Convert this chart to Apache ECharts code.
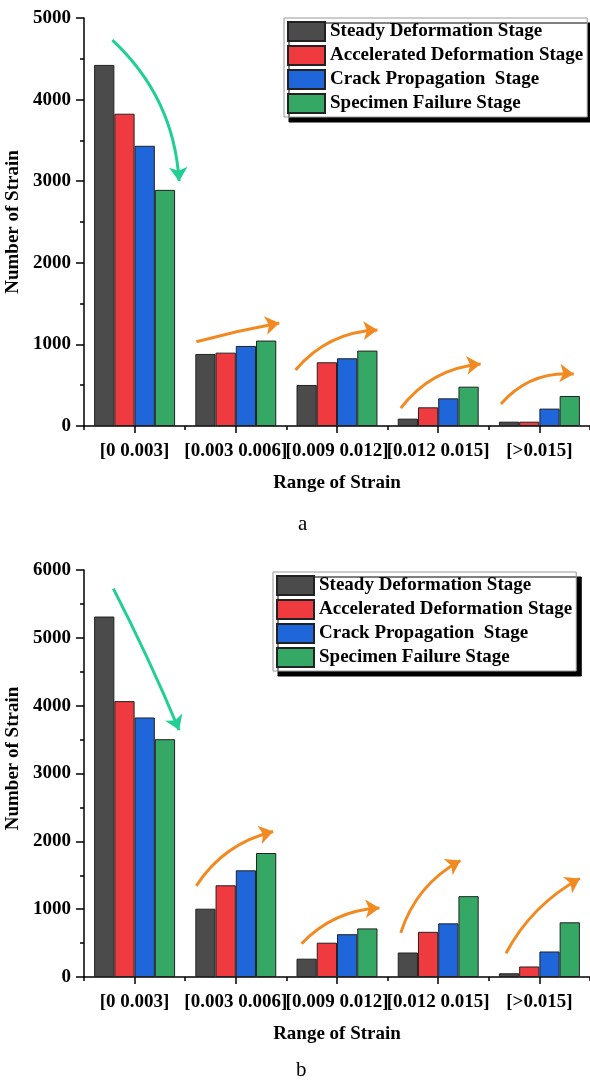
<!DOCTYPE html>
<html>
<head>
<meta charset="utf-8">
<script src="https://cdn.jsdelivr.net/npm/echarts@6/dist/echarts.min.js"></script>
<style>
html,body{margin:0;padding:0;background:#fff;}
#chart{width:590px;height:1084px;}
</style>
</head>
<body>
<div id="chart"></div>
<script>
const categories = ['[0 0.003]', '[0.003 0.006]', '[0.009 0.012]', '[0.012 0.015]', '[>0.015]'];
const stageNames = ['Steady Deformation Stage', 'Accelerated Deformation Stage', 'Crack Propagation  Stage', 'Specimen Failure Stage'];
const stageColors = ['#4b4b4b', '#ef3b40', '#1e66d9', '#35a866'];

const aSteady  = [4425, 883, 503, 90, 53];
const aAccel   = [3827, 899, 781, 229, 53];
const aCrack   = [3434, 981, 830, 339, 213];
const aFailure = [2894, 1047, 924, 482, 368];

const bSteady  = [5314, 1007, 270, 361, 55];
const bAccel   = [4067, 1352, 506, 666, 155];
const bCrack   = [3826, 1573, 631, 791, 376];
const bFailure = [3506, 1828, 716, 1192, 806];

const yTicksA = [0, 1000, 2000, 3000, 4000, 5000];
const yTicksB = [0, 1000, 2000, 3000, 4000, 5000, 6000];

// annotation arrows (data space: x in category index units, y in counts)
const trendA = [
  {from: [-0.22, 4730], to: [0.44, 3000], color: '#22cf92', curv: 0.2},
  {from: [0.61, 1033], to: [1.43, 1262], color: '#f28a22', curv: 0.02},
  {from: [1.59, 686], to: [2.40, 1176], color: '#f28a22', curv: 0.22},
  {from: [2.63, 218], to: [3.42, 760], color: '#f28a22', curv: 0.22},
  {from: [3.62, 270], to: [4.34, 637], color: '#f28a22', curv: 0.25}
];
const trendB = [
  {from: [-0.21, 5725], to: [0.44, 3640], color: '#22cf92', curv: 0.02},
  {from: [0.61, 1343], to: [1.37, 2144], color: '#f28a22', curv: 0.2},
  {from: [1.65, 491], to: [2.42, 1017], color: '#f28a22', curv: 0.2},
  {from: [2.63, 651], to: [3.22, 1718], color: '#f28a22', curv: 0.2},
  {from: [3.67, 350], to: [4.40, 1452], color: '#f28a22', curv: 0.15}
];

const FONT = 'Liberation Serif, Times New Roman, serif';
const chart = echarts.init(document.getElementById('chart'), null, {renderer: 'canvas'});

function catAxis(grid) {
  return {
    type: 'category', gridIndex: grid, data: categories, position: 'bottom',
    axisLine: {onZero: false, lineStyle: {color: '#000', width: 1.5}},
    axisTick: {show: true, alignWithLabel: true, length: 7, lineStyle: {color: '#000', width: 1.5}},
    axisLabel: {interval: 0, color: '#000', fontFamily: FONT, fontWeight: 'bold', fontSize: 19, margin: 16},
    name: 'Range of Strain', nameLocation: 'middle', nameGap: 48,
    nameTextStyle: {color: '#000', fontFamily: FONT, fontWeight: 'bold', fontSize: 19}
  };
}
function boundAxis(grid) {
  return {
    type: 'category', gridIndex: grid, data: categories, position: 'bottom',
    axisLine: {show: false, onZero: false},
    axisTick: {show: true, alignWithLabel: false, interval: 0, length: 4, lineStyle: {color: '#000', width: 1.5}},
    axisLabel: {show: false}
  };
}
function annoAxis(grid) {
  return {type: 'value', gridIndex: grid, min: -0.5, max: 4.5, show: false, position: 'bottom', axisLine: {onZero: false}};
}
function valAxis(grid, ticks, padLeft) {
  return {
    type: 'value', gridIndex: grid, min: ticks[0], max: ticks[ticks.length - 1], interval: 1000,
    axisLine: {show: true, onZero: false, lineStyle: {color: '#000', width: 1.5}},
    axisTick: {show: true, length: 8, lineStyle: {color: '#000', width: 1.5}},
    minorTick: {show: true, splitNumber: 2, length: 4, lineStyle: {color: '#000', width: 1.5}},
    splitLine: {show: false},
    axisLabel: {color: '#000', fontFamily: FONT, fontWeight: 'bold', fontSize: 19, margin: 13,
      formatter: function (v) { return String(v); }},
    name: 'Number of Strain', nameLocation: 'middle', nameGap: 52,
    nameTextStyle: {color: '#000', fontFamily: FONT, fontWeight: 'bold', fontSize: 19, padding: [0, 0, 0, padLeft]}
  };
}
function barSeries(name, color, data, xi, yi) {
  return {
    type: 'bar', name: name, data: data, xAxisIndex: xi, yAxisIndex: yi,
    barGap: '0%', barCategoryGap: '20%',
    itemStyle: {color: color, borderColor: '#222', borderWidth: 1},
    emphasis: {disabled: true}
  };
}
function arrowSeries(list, xi, yi) {
  return list.map(function (a) {
    return {
      type: 'lines', coordinateSystem: 'cartesian2d', xAxisIndex: xi, yAxisIndex: yi,
      symbol: ['none', 'arrow'], symbolSize: 14, silent: true, z: 5,
      lineStyle: {color: a.color, width: 3, opacity: 1, curveness: a.curv},
      data: [{coords: [a.from, a.to]}]
    };
  });
}
function legendAt(left, top) {
  return {
    data: stageNames, orient: 'vertical', left: left, top: top,
    itemWidth: 37, itemHeight: 19, itemGap: 3, padding: [3, 4, 3, 3],
    icon: 'rect', selectedMode: false,
    backgroundColor: '#fff', borderColor: '#999', borderWidth: 1,
    shadowColor: '#000', shadowOffsetX: 5, shadowOffsetY: 5, shadowBlur: 0,
    textStyle: {color: '#000', fontFamily: FONT, fontWeight: 'bold', fontSize: 19, padding: [0, 0, 0, 0]}
  };
}

const aSets = [aSteady, aAccel, aCrack, aFailure];
const bSets = [bSteady, bAccel, bCrack, bFailure];
let series = [];
aSets.forEach(function (d, i) { series.push(barSeries(stageNames[i], stageColors[i], d, 0, 0)); });
bSets.forEach(function (d, i) { series.push(barSeries(stageNames[i], stageColors[i], d, 3, 1)); });
series = series.concat(arrowSeries(trendA, 2, 0)).concat(arrowSeries(trendB, 5, 1));

chart.setOption({
  animation: false,
  backgroundColor: '#fff',
  grid: [
    {left: 84, right: 0, top: 18, height: 408, containLabel: false, outerBoundsMode: 'none'},
    {left: 84, right: 0, top: 570, height: 407, containLabel: false, outerBoundsMode: 'none'}
  ],
  xAxis: [catAxis(0), boundAxis(0), annoAxis(0), catAxis(1), boundAxis(1), annoAxis(1)],
  yAxis: [valAxis(0, yTicksA, 0), valAxis(1, yTicksB, 30)],
  legend: [legendAt(284, 18), legendAt(273, 572)],
  graphic: [
    {type: 'text', left: 298, top: 514, style: {text: 'a', font: '21px ' + FONT, fill: '#000'}},
    {type: 'text', left: 296, top: 1060, style: {text: 'b', font: '21px ' + FONT, fill: '#000'}}
  ],
  series: series
});
</script>
</body>
</html>
